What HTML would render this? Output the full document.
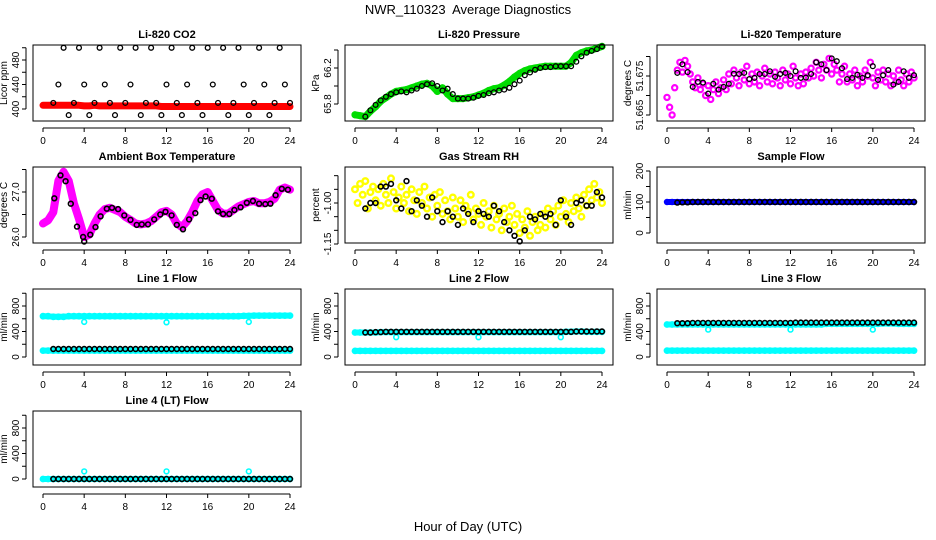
<!DOCTYPE html>
<html><head><meta charset="utf-8"><style>
html,body{margin:0;padding:0;background:#fff;}
svg{display:block;font-family:"Liberation Sans",Arial,sans-serif;}
</style></head><body>
<svg id="chart" width="936" height="540" viewBox="0 0 936 540" xmlns="http://www.w3.org/2000/svg">
<text x="468" y="14" text-anchor="middle" font-size="13">NWR_110323&#160; Average Diagnostics</text>
<text x="468" y="531" text-anchor="middle" font-size="13">Hour of Day (UTC)</text>
</svg>
<script>
// ---- data ----
const xTicks = [0,4,8,12,16,20,24];
const co2Black = [410,440,500,390,410,500,440,390,410,500,440,410,390,500,410,440,500,390,410,500,410,390,440,500,410,390,440,500,410,390,500,440,410,500,390,410,500,440,390,410,500,440,390,410,500,440,410];
const co2Red = [406,406,406,406,406,406,406,406,405,405,406,405,405,405,405,405,405,405,405,405,405,405,405,404,404,404,404,404,404,404,404,404,404,404,404,404,404,404,404,404,404,404,404,404,404,404,404,404,404];
const presGreen = [65.68,65.67,65.66,65.72,65.77,65.83,65.87,65.91,65.94,65.95,65.96,65.98,66.00,66.02,66.03,66.00,65.94,65.98,65.91,65.86,65.86,65.86,65.87,65.88,65.90,65.92,65.95,65.97,65.98,66.01,66.05,66.10,66.14,66.17,66.19,66.20,66.21,66.22,66.22,66.22,66.22,66.22,66.26,66.34,66.37,66.39,66.40,66.42,66.44];
const presBlack = [65.66,65.73,65.79,65.84,65.88,65.91,65.93,65.94,65.93,65.95,65.97,66.00,66.02,66.03,66.00,65.95,65.97,65.91,65.86,65.86,65.86,65.87,65.89,65.90,65.92,65.93,65.95,65.96,65.98,66.02,66.06,66.12,66.15,66.18,66.20,66.21,66.21,66.22,66.22,66.22,66.22,66.27,66.33,66.37,66.39,66.41,66.44];
const tempMag = [51.6695,51.667,51.665,51.672,51.6765,51.6785,51.676,51.679,51.6775,51.6755,51.6735,51.672,51.6745,51.6715,51.673,51.670,51.6725,51.669,51.6715,51.6735,51.6705,51.672,51.674,51.6715,51.6755,51.673,51.6765,51.6745,51.6725,51.676,51.674,51.6775,51.673,51.6755,51.6735,51.676,51.6725,51.675,51.677,51.6735,51.6755,51.673,51.676,51.6745,51.6725,51.6765,51.674,51.6755,51.673,51.6775,51.6745,51.6725,51.6755,51.673,51.676,51.6745,51.677,51.675,51.6785,51.6765,51.6745,51.678,51.6765,51.6795,51.6755,51.678,51.6765,51.6735,51.6755,51.6775,51.6735,51.6755,51.674,51.6765,51.6725,51.675,51.6735,51.6765,51.675,51.6785,51.6745,51.6725,51.676,51.674,51.6765,51.6735,51.6755,51.6725,51.675,51.6735,51.6765,51.674,51.6725,51.6755,51.6735,51.676,51.6745];
const tempBlack = [51.6758,51.6780,51.6760,51.6722,51.6735,51.6733,51.6705,51.6730,51.6715,51.6722,51.6730,51.6756,51.6755,51.6758,51.6742,51.6745,51.6755,51.6755,51.6762,51.6748,51.6755,51.6758,51.6750,51.6762,51.6745,51.6746,51.6755,51.6785,51.6780,51.6765,51.6795,51.6788,51.6770,51.6742,51.6745,51.6753,51.6745,51.6752,51.6775,51.6740,51.6752,51.6765,51.6728,51.6735,51.6762,51.6745,51.6752];
const ambMag = [26.30,26.37,26.55,27.25,27.45,27.25,26.75,26.40,26.00,26.05,26.30,26.50,26.62,26.65,26.60,26.55,26.45,26.38,26.30,26.28,26.30,26.35,26.45,26.55,26.58,26.50,26.30,26.22,26.35,26.55,26.80,26.95,27.00,26.80,26.60,26.52,26.52,26.60,26.68,26.73,26.78,26.80,26.75,26.75,26.78,26.85,27.05,27.10,27.05];
const ambHours = [1.1,1.7,2.2,2.7,3.3,3.9,4.0,4.6,5.1,5.6,6.2,6.7,7.3,7.9,8.5,9.1,9.6,10.2,10.8,11.4,11.9,12.5,13.0,13.6,14.2,14.8,15.3,15.8,16.4,17.0,17.5,18.1,18.6,19.2,19.8,20.4,21.0,21.6,22.1,22.6,23.2,23.8];
const ambBlack = [26.86,27.37,27.24,26.74,26.23,26.0,25.9,26.05,26.22,26.46,26.63,26.65,26.62,26.48,26.38,26.27,26.28,26.28,26.39,26.50,26.56,26.48,26.27,26.17,26.39,26.53,26.82,26.90,26.85,26.57,26.51,26.51,26.60,26.66,26.76,26.80,26.74,26.73,26.74,26.93,27.07,27.05];
const rhYellow = [-0.95,-1.00,-0.93,-0.97,-0.92,-1.02,-0.96,-0.94,-0.99,-0.95,-1.01,-0.93,-0.97,-1.00,-0.91,-0.96,-1.02,-0.98,-0.94,-1.00,-0.97,-1.03,-0.95,-0.99,-1.04,-0.96,-1.00,-0.94,-1.02,-0.98,-1.05,-0.97,-1.01,-0.96,-1.04,-0.99,-1.03,-1.06,-0.98,-1.02,-1.05,-0.99,-1.07,-1.01,-1.03,-0.97,-1.06,-1.02,-1.04,-1.08,-1.00,-1.05,-1.03,-1.09,-1.01,-1.06,-1.04,-1.10,-1.02,-1.07,-1.05,-1.01,-1.08,-1.04,-1.11,-1.06,-1.09,-1.03,-1.12,-1.07,-1.05,-1.10,-1.08,-1.04,-1.09,-1.02,-1.06,-1.03,-1.08,-1.01,-1.05,-0.99,-1.04,-1.07,-1.00,-1.03,-0.98,-1.02,-1.05,-0.97,-1.01,-0.95,-0.99,-0.93,-0.98,-0.96,-1.00];
const rhBlack = [-1.02,-1.00,-1.00,-0.94,-0.94,-0.93,-0.99,-1.02,-0.92,-1.03,-0.99,-1.01,-1.05,-0.98,-1.03,-1.07,-1.03,-1.05,-1.08,-1.02,-1.04,-1.07,-1.03,-1.04,-1.05,-1.01,-1.03,-1.07,-1.10,-1.12,-1.14,-1.10,-1.05,-1.06,-1.04,-1.05,-1.04,-1.08,-0.99,-1.05,-1.08,-1.00,-0.99,-1.01,-1.01,-0.96,-0.98];
const sampleBlue = [100,100,100,100,100,100,100,100,100,100,100,100,100,100,100,100,100,100,100,100,100,100,100,100,100,100,100,100,100,100,100,100,100,100,100,100,100,100,100,100,100,100,100,100,100,100,100,100,100];
const sampleBlack = [98,99,99,100,100,100,100,100,100,100,100,100,100,100,100,100,100,100,100,100,100,100,100,100,100,100,100,100,100,100,100,100,100,100,100,100,100,100,100,100,100,100,100,100,100,100,100];
const outlierHours = [4,12,20];
const l1High = [640,640,630,630,630,640,640,640,640,640,640,640,640,640,640,640,640,640,640,640,640,640,640,640,640,640,640,640,640,640,640,640,640,640,640,640,640,640,640,645,645,650,650,650,650,650,650,650,650];
const l1Low = [100,100,100,100,100,100,100,100,100,100,100,100,100,100,100,100,100,100,100,100,100,100,100,100,100,100,100,100,100,100,100,100,100,100,100,100,100,100,100,100,100,100,100,100,100,100,100,100,100];
const l1Out = [550,545,550];
const l1Black = [125,125,125,125,125,125,125,125,125,125,125,125,125,125,125,125,125,125,125,125,125,125,125,125,125,125,125,125,125,125,125,125,125,125,125,125,125,125,125,125,125,125,125,125,125,125,125];
const l2High = [385,385,385,385,385,390,390,390,390,390,390,390,390,390,390,390,390,390,390,390,390,390,390,390,390,390,390,390,390,390,390,390,390,390,390,390,390,390,390,390,390,395,395,400,400,395,395,395,395];
const l2Low = [95,95,95,95,95,95,95,95,95,95,95,95,95,95,95,95,95,95,95,95,95,95,95,95,95,95,95,95,95,95,95,95,95,95,95,95,95,95,95,95,95,95,95,95,95,95,95,95,95];
const l2Out = [310,310,310];
const l2Black = [385,385,390,390,395,395,395,395,395,395,395,395,395,395,395,395,395,395,395,395,395,395,395,395,395,395,395,395,395,395,395,395,395,395,395,395,395,395,395,395,395,400,400,400,400,400,400];
const l3High = [510,510,510,510,510,510,510,510,510,510,510,510,510,510,510,510,510,510,510,510,510,510,510,510,510,510,510,510,510,510,510,520,520,520,520,520,520,520,520,520,520,520,525,525,525,520,520,520,520];
const l3Low = [100,100,100,100,100,100,100,100,100,100,100,100,100,100,100,100,100,100,100,100,100,100,100,100,100,100,100,100,100,100,100,100,100,100,100,100,100,100,100,100,100,100,100,100,100,100,100,100,100];
const l3Out = [430,430,430];
const l3Black = [530,530,530,535,535,535,535,535,535,535,535,535,535,535,535,535,535,535,535,535,535,535,535,540,540,540,540,540,540,540,540,540,540,540,540,540,540,540,540,540,540,540,540,540,540,540,540];
const l4Cyan = [0,0,0,0,0,0,0,0,0,0,0,0,0,0,0,0,0,0,0,0,0,0,0,0,0,0,0,0,0,0,0,0,0,0,0,0,0,0,0,0,0,0,0,0,0,0,0,0,0];
const l4Out = [120,120,120];
const l4Black = [0,0,0,0,0,0,0,0,0,0,0,0,0,0,0,0,0,0,0,0,0,0,0,0,0,0,0,0,0,0,0,0,0,0,0,0,0,0,0,0,0,0,0,0,0,0,0];

// ---- drawing ----
const svg = document.getElementById('chart');
const NS = 'http://www.w3.org/2000/svg';
function mk(tag, attrs, parent){ const e=document.createElementNS(NS,tag); for(const k in attrs) e.setAttribute(k,attrs[k]); (parent||svg).appendChild(e); return e; }

function panel(o){
  const g = mk('g',{});
  
  
  const L=33+312*o.col, R=301+312*o.col, T=45+122*o.row, B=121+122*o.row;
  const x0=43+312*o.col, x24=290+312*o.col;
  const X = h => x0 + (x24-x0)*h/24;
  const Y = v => T + o.p1 + (v-o.v1)*(o.p2-o.p1)/(o.v2-o.v1);
  const ttl = mk('text',{x:(L+R)/2,y:T-7,'text-anchor':'middle','font-size':11,'font-weight':'bold'},g);
  ttl.textContent=o.title;
  
  
  const sg = mk('g',{},g);
  o.series.forEach(s=>{
    const n=s.data.length;
    const xs = s.hours ? s.hours : s.data.map((v,i)=> s.start + (s.end-s.start)*i/(n-1));
    if(s.band){
      const pl = mk('polyline',{points:s.data.map((v,i)=>X(xs[i]).toFixed(1)+','+Y(v).toFixed(1)).join(' '),fill:'none',stroke:s.color,'stroke-width':s.band,'stroke-linejoin':'round','stroke-linecap':'round'},sg);
      
      
    }
    s.data.forEach((v,i)=>{
      const c = mk('circle',{cx:X(xs[i]).toFixed(1),cy:Y(v).toFixed(1),r:s.r||2.4,fill:'none',stroke:s.color,'stroke-width':s.sw||1.3},sg);
      
      
    });
  });
  const bx = mk('rect',{x:L,y:T,width:R-L,height:B-T,fill:'none',stroke:'#000','stroke-width':1},g);
  
  
  mk('line',{x1:X(0),y1:B+7,x2:X(24),y2:B+7,stroke:'#000','stroke-width':1},g);
  xTicks.forEach(t=>{
    mk('line',{x1:X(t),y1:B+7,x2:X(t),y2:B+11,stroke:'#000','stroke-width':1},g);
    const tx=mk('text',{x:X(t),y:B+23,'text-anchor':'middle','font-size':10},g);
    tx.textContent=t;
    
    
  });
  const yt=o.ticks;
  mk('line',{x1:L-7,y1:Y(yt[0]),x2:L-7,y2:Y(yt[yt.length-1]),stroke:'#000','stroke-width':1},g);
  yt.forEach(t=>{
    mk('line',{x1:L-7,y1:Y(t),x2:L-11,y2:Y(t),stroke:'#000','stroke-width':1},g);
  });
  o.labels.forEach((lab,i)=>{
    const yy=Y(o.labelVals[i]);
    const tx=mk('text',{x:L-14,y:yy,'text-anchor':'middle','font-size':10,transform:`rotate(-90 ${L-14} ${yy})`},g);
    tx.textContent=lab;
    
    
  });
  const yl=(T+B)/2;
  const yt2=mk('text',{x:L-26,y:yl,'text-anchor':'middle','font-size':10,transform:`rotate(-90 ${L-26} ${yl})`},g);
  yt2.textContent=o.ylab;
  
  
}

const Q = {start:0,end:24}; const H = {start:1,end:24};
const flowAxis = {v1:0,p1:68,v2:800,p2:17,ticks:[0,200,400,600,800,1000],labels:['0','400','800'],labelVals:[0,400,800],ylab:'ml/min'};

panel({name:'co2-panel',title:'Li-820 CO2',col:0,row:0,v1:400,p1:64,v2:480,p2:15,ticks:[400,420,440,460,480,500],labels:['400','440','480'],labelVals:[400,440,480],ylab:'Licor ppm',
  series:[{name:'co2-red',data:co2Red,...Q,color:'#ff0000',band:7,r:1.5,sw:1},{name:'co2-black',data:co2Black,...H,color:'#000'}]});
panel({name:'pressure-panel',title:'Li-820 Pressure',col:1,row:0,v1:65.8,p1:59,v2:66.2,p2:23,ticks:[65.8,66.0,66.2,66.4],labels:['65.8','66.2'],labelVals:[65.8,66.2],ylab:'kPa',
  series:[{name:'pressure-green',data:presGreen,...Q,color:'#00dd00',band:7,r:2.6,sw:2},{name:'pressure-black',data:presBlack,...H,color:'#000'}]});
panel({name:'temperature-panel',title:'Li-820 Temperature',col:2,row:0,v1:51.665,p1:70,v2:51.675,p2:31,ticks:[51.665,51.670,51.675,51.680],labels:['51.665','51.675'],labelVals:[51.665,51.675],ylab:'degrees C',
  series:[{name:'temperature-magenta',data:tempMag,...Q,color:'#ff00ff',r:2.6,sw:2.2},{name:'temperature-black',data:tempBlack,...H,color:'#000'}]});
panel({name:'ambient-panel',title:'Ambient Box Temperature',col:0,row:1,v1:26.0,p1:70,v2:27.0,p2:25,ticks:[26.0,26.5,27.0,27.5],labels:['26.0','27.0'],labelVals:[26.0,27.0],ylab:'degrees C',
  series:[{name:'ambient-magenta',data:ambMag,...Q,color:'#ff00ff',band:8,r:2.6,sw:2},{name:'ambient-black',data:ambBlack,hours:ambHours,color:'#000',sw:1.6}]});
panel({name:'rh-panel',title:'Gas Stream RH',col:1,row:1,v1:-1.0,p1:36,v2:-1.15,p2:77,ticks:[-1.15,-1.10,-1.05,-1.00,-0.95,-0.90],labels:['-1.15','-1.00'],labelVals:[-1.15,-1.0],ylab:'percent',
  series:[{name:'rh-yellow',data:rhYellow,...Q,color:'#ffff00',r:2.8,sw:2.4},{name:'rh-black',data:rhBlack,...H,color:'#000',sw:1.6}]});
panel({name:'sample-flow-panel',title:'Sample Flow',col:2,row:1,v1:0,p1:66,v2:200,p2:4,ticks:[0,50,100,150,200],labels:['0','100','200'],labelVals:[0,100,200],ylab:'ml/min',
  series:[{name:'sample-blue',data:sampleBlue,...Q,color:'#0000ff',band:6,r:2.4,sw:1.6},{name:'sample-black',data:sampleBlack,...H,color:'#000',sw:1.6}]});
panel({name:'line1-flow-panel',title:'Line 1 Flow',col:0,row:2,...flowAxis,
  series:[{name:'line1-cyan-high',data:l1High,...Q,color:'#00ffff',band:6,sw:2},{name:'line1-cyan-low',data:l1Low,...Q,color:'#00ffff',band:6,sw:2},{name:'line1-cyan-outlier',data:l1Out,hours:outlierHours,color:'#00ffff',sw:1.6},{name:'line1-black',data:l1Black,...H,color:'#000',sw:1.6}]});
panel({name:'line2-flow-panel',title:'Line 2 Flow',col:1,row:2,...flowAxis,
  series:[{name:'line2-cyan-high',data:l2High,...Q,color:'#00ffff',band:6,sw:2},{name:'line2-cyan-low',data:l2Low,...Q,color:'#00ffff',band:6,sw:2},{name:'line2-cyan-outlier',data:l2Out,hours:outlierHours,color:'#00ffff',sw:1.6},{name:'line2-black',data:l2Black,...H,color:'#000',sw:1.6}]});
panel({name:'line3-flow-panel',title:'Line 3 Flow',col:2,row:2,...flowAxis,
  series:[{name:'line3-cyan-high',data:l3High,...Q,color:'#00ffff',band:6,sw:2},{name:'line3-cyan-low',data:l3Low,...Q,color:'#00ffff',band:6,sw:2},{name:'line3-cyan-outlier',data:l3Out,hours:outlierHours,color:'#00ffff',sw:1.6},{name:'line3-black',data:l3Black,...H,color:'#000',sw:1.6}]});
panel({name:'line4-flow-panel',title:'Line 4 (LT) Flow',col:0,row:3,...flowAxis,
  series:[{name:'line4-cyan',data:l4Cyan,...Q,color:'#00ffff',band:6,sw:2},{name:'line4-cyan-outlier',data:l4Out,hours:outlierHours,color:'#00ffff',sw:1.6},{name:'line4-black',data:l4Black,...H,color:'#000',sw:1.6}]});
</script>
</body></html>
